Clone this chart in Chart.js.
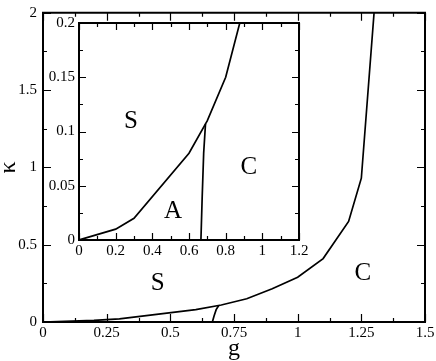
<!DOCTYPE html>
<html>
<head>
<meta charset="utf-8">
<script src="https://cdn.jsdelivr.net/npm/chart.js@4/dist/chart.umd.min.js"></script>
<style>
  html, body { margin: 0; padding: 0; background: #fff; }
  #wrap { position: relative; width: 436px; height: 361px; }
  #main { position: absolute; left: 0; top: 0; }
  #inset { position: absolute; left: 40px; top: 10px; }
</style>
</head>
<body>
<div id="wrap">
  <canvas id="main" width="436" height="361"></canvas>
  <canvas id="inset" width="275" height="255"></canvas>
</div>
<script>
// upper boundary (S above, A / C below)
const gUpper = [0, 0.2, 0.3, 0.6, 0.7, 0.8, 0.9, 1.0, 1.1, 1.2, 1.25, 1.3];
const kUpper = [0, 0.01, 0.02, 0.08, 0.11, 0.15, 0.215, 0.29, 0.41, 0.65, 0.93, 2.0];
// A | C boundary
const gAC = [0.665, 0.672, 0.68, 0.69];
const kAC = [0, 0.04, 0.08, 0.107];

// main axes
const mainXTicks = [0, 0.25, 0.5, 0.75, 1, 1.25, 1.5];
const mainXLabels = ["0", "0.25", "0.5", "0.75", "1", "1.25", "1.5"];
const mainXMinor = [0.125, 0.375, 0.625, 0.875, 1.125, 1.375];
const mainYTicks = [0, 0.5, 1, 1.5, 2];
const mainYLabels = ["0", "0.5", "1", "1.5", "2"];
const mainYMinor = [0.25, 0.75, 1.25, 1.75];

// inset axes
const insetXTicks = [0, 0.2, 0.4, 0.6, 0.8, 1, 1.2];
const insetXLabels = ["0", "0.2", "0.4", "0.6", "0.8", "1", "1.2"];
const insetXMinor = [0.1, 0.3, 0.5, 0.7, 0.9, 1.1];
const insetYTicks = [0, 0.05, 0.1, 0.15, 0.2];
const insetYLabels = ["0", "0.05", "0.1", "0.15", "0.2"];
const insetYMinor = [0.025, 0.075, 0.125, 0.175];

// phase labels (text at g, kappa)
const mainRegions = ["S", "C"];
const mainRegionG = [0.45, 1.256];
const mainRegionK = [0.25, 0.317];
const insetRegions = ["S", "C", "A"];
const insetRegionG = [0.284, 0.927, 0.513];
const insetRegionK = [0.109, 0.067, 0.026];

const SERIF = '"Liberation Serif", "Times New Roman", serif';
Chart.defaults.color = '#000';
Chart.defaults.font.family = SERIF;

function points(gs, ks) {
  return gs.map((g, i) => ({ x: g, y: ks[i] }));
}

function curve(gs, ks) {
  return {
    data: points(gs, ks),
    showLine: true,
    borderColor: '#000',
    borderWidth: 1.7,
    pointRadius: 0,
    tension: 0,
    fill: false
  };
}

// frame, inward ticks on all four sides, phase labels
const framePlugin = {
  id: 'frame',
  afterDatasetsDraw(chart, args, o) {
    const { ctx, chartArea: a } = chart;
    const x = chart.scales.x, y = chart.scales.y;
    ctx.save();
    ctx.strokeStyle = '#000';
    ctx.lineWidth = 1.2;
    ctx.beginPath();
    const xt = (vals, len) => vals.forEach(v => {
      const px = Math.round(x.getPixelForValue(v)) + 0.5;
      ctx.moveTo(px, a.bottom); ctx.lineTo(px, a.bottom - len);
      ctx.moveTo(px, a.top); ctx.lineTo(px, a.top + len);
    });
    const yt = (vals, len) => vals.forEach(v => {
      const py = Math.round(y.getPixelForValue(v)) + 0.5;
      ctx.moveTo(a.left, py); ctx.lineTo(a.left + len, py);
      ctx.moveTo(a.right, py); ctx.lineTo(a.right - len, py);
    });
    xt(o.xMajor, o.major); xt(o.xMinor, o.minor);
    yt(o.yMajor, o.major); yt(o.yMinor, o.minor);
    ctx.stroke();
    ctx.lineWidth = 2;
    ctx.strokeRect(a.left, a.top, a.right - a.left, a.bottom - a.top);

    ctx.fillStyle = '#000';
    ctx.font = '25px ' + SERIF;
    ctx.textAlign = 'center';
    ctx.textBaseline = 'middle';
    o.texts.forEach((t, i) => {
      ctx.fillText(t, x.getPixelForValue(o.tg[i]), y.getPixelForValue(o.tk[i]));
    });
    ctx.restore();
  }
};

const xTickFont = { family: SERIF, size: 15, lineHeight: 1.3 };
const yTickFont = { family: SERIF, size: 15, lineHeight: 0.9 };
const titleFont = { family: SERIF, size: 24 };

function xAxis(min, max, ticks, labels, height, title) {
  return {
    type: 'linear', min, max,
    afterBuildTicks: s => { s.ticks = ticks.map(v => ({ value: v })); },
    afterFit: s => { s.height = height; },
    grid: { display: false, drawTicks: false },
    border: { display: false },
    ticks: { autoSkip: false, maxRotation: 0, padding: 1, font: xTickFont,
             callback: (v, i) => labels[i] },
    title: title ? { display: true, text: title, font: titleFont, padding: { top: 0, bottom: -2 } }
                 : { display: false }
  };
}

function yAxis(min, max, ticks, labels, width, pad, title) {
  return {
    type: 'linear', min, max,
    afterBuildTicks: s => { s.ticks = ticks.map(v => ({ value: v })); },
    afterFit: s => { s.width = width; },
    grid: { display: false, drawTicks: false },
    border: { display: false },
    ticks: { autoSkip: false, padding: pad, font: yTickFont,
             callback: (v, i) => labels[i] },
    title: title ? { display: true, text: title, font: titleFont, padding: { top: -6, bottom: 0 } }
                 : { display: false }
  };
}

new Chart(document.getElementById('main'), {
  type: 'scatter',
  data: { datasets: [curve(gUpper, kUpper), curve(gAC, kAC)] },
  options: {
    responsive: false,
    animation: false,
    layout: { padding: { left: 0, top: 7, right: 11, bottom: 0 } },
    scales: {
      x: xAxis(0, 1.5, mainXTicks, mainXLabels, 39, 'g'),
      y: yAxis(0, 2, mainYTicks, mainYLabels, 43, 6, 'κ')
    },
    plugins: {
      legend: { display: false },
      tooltip: { enabled: false },
      frame: { xMajor: mainXTicks, xMinor: mainXMinor, yMajor: mainYTicks, yMinor: mainYMinor,
               major: 8, minor: 4, texts: mainRegions, tg: mainRegionG, tk: mainRegionK }
    }
  },
  plugins: [framePlugin]
});

new Chart(document.getElementById('inset'), {
  type: 'scatter',
  data: { datasets: [curve(gUpper, kUpper), curve(gAC, kAC)] },
  options: {
    responsive: false,
    animation: false,
    layout: { padding: { left: 0, top: 13, right: 16, bottom: 0 } },
    scales: {
      x: xAxis(0, 1.2, insetXTicks, insetXLabels, 25, null),
      y: yAxis(0, 0.2, insetYTicks, insetYLabels, 39, 4, null)
    },
    plugins: {
      legend: { display: false },
      tooltip: { enabled: false },
      frame: { xMajor: insetXTicks, xMinor: insetXMinor, yMajor: insetYTicks, yMinor: insetYMinor,
               major: 7, minor: 4, texts: insetRegions, tg: insetRegionG, tk: insetRegionK }
    }
  },
  plugins: [framePlugin]
});
</script>
</body>
</html>
